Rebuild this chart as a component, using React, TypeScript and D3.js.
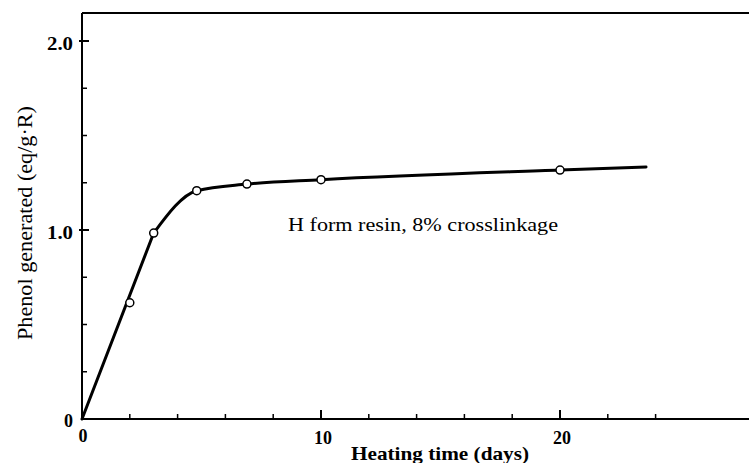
import React from "react";
import * as d3 from "d3";

const days = [2, 3, 4.8, 6.9, 10, 20];
const phenol = [0.615, 0.984, 1.208, 1.243, 1.266, 1.317];
const riseDays = [0, 3];
const risePhenol = [0, 0.984];
const plateauDays = [3, 4.8, 6.9, 10, 20, 23.6];
const plateauPhenol = [0.984, 1.208, 1.243, 1.266, 1.317, 1.333];
const xMajorTicks = [10, 20];
const xMinorTicks = [2, 4, 6, 8, 12, 14, 16, 18, 22, 24];
const yMajorTicks = [1.0, 2.0];
const yMinorTicks = [0.25, 0.5, 0.75, 1.25, 1.5, 1.75];
const yTickLabels = ["1.0", "2.0"];
const xTickLabels = ["10", "20"];
const xTitle = "Heating time (days)";
const yTitle = "Phenol generated (eq/g\u00b7R)";
const annotation = "H form resin, 8% crosslinkage";

const W = 749;
const H = 463;

export default function App() {
  const x = d3.scaleLinear().domain([0, 28]).range([82, 82 + 28 * 23.9]);
  const y = d3.scaleLinear().domain([0, 2]).range([419, 41]);
  const riseLine = d3
    .line<number>()
    .x((_, i) => x(riseDays[i]))
    .y((d) => y(d));
  const plateauLine = d3
    .line<number>()
    .x((_, i) => x(plateauDays[i]))
    .y((d) => y(d))
    .curve(d3.curveMonotoneX);
  const font = "'Liberation Serif', 'Times New Roman', serif";
  const x0 = x(0);
  const yTop = 13;
  return (
    <svg
      width={W}
      height={H}
      style={{ position: "absolute", left: 0, top: 0, background: "#fff" }}
      fontFamily={font}
    >
      <rect x={0} y={0} width={W} height={H} fill="#fff" />
      {/* frame */}
      <line x1={x0} x2={W} y1={yTop} y2={yTop} stroke="#000" strokeWidth={2} />
      <line x1={x0} x2={x0} y1={yTop} y2={y(0)} stroke="#000" strokeWidth={2} />
      <line x1={x0} x2={W} y1={y(0)} y2={y(0)} stroke="#000" strokeWidth={2} />
      {/* y ticks */}
      {yMajorTicks.map((t) => (
        <line key={"ym" + t} x1={x0 - 3} x2={x0 + 7} y1={y(t)} y2={y(t)} stroke="#000" strokeWidth={2} />
      ))}
      {yMinorTicks.map((t) => (
        <line key={"yn" + t} x1={x0} x2={x0 + 5} y1={y(t)} y2={y(t)} stroke="#000" strokeWidth={1.5} />
      ))}
      {/* x ticks */}
      {xMajorTicks.map((t) => (
        <line key={"xm" + t} x1={x(t)} x2={x(t)} y1={y(0)} y2={y(0) - 9} stroke="#000" strokeWidth={2} />
      ))}
      {xMinorTicks.map((t) => (
        <line key={"xn" + t} x1={x(t)} x2={x(t)} y1={y(0)} y2={y(0) - 5} stroke="#000" strokeWidth={1.5} />
      ))}
      {/* y tick labels */}
      {yMajorTicks.map((t, i) => (
        <text key={"yl" + t} x={73} y={y(t) + 9} textAnchor="end" fontSize={19} fontWeight="bold"
          textLength={26} lengthAdjust="spacingAndGlyphs">
          {yTickLabels[i]}
        </text>
      ))}
      <text x={73} y={427} textAnchor="end" fontSize={18} fontWeight="bold">0</text>
      <text x={x0 + 1} y={442} textAnchor="middle" fontSize={18} fontWeight="bold">0</text>
      {/* x tick labels */}
      {xMajorTicks.map((t, i) => (
        <text key={"xl" + t} x={x(t) + 2} y={444} textAnchor="middle" fontSize={18} fontWeight="bold">
          {xTickLabels[i]}
        </text>
      ))}
      {/* axis titles */}
      <text x={440} y={460} textAnchor="middle" fontSize={19} fontWeight="bold"
        textLength={178} lengthAdjust="spacingAndGlyphs">
        {xTitle}
      </text>
      <text transform="translate(32,223) rotate(-90)" textAnchor="middle" fontSize={21}
        textLength={234} lengthAdjust="spacingAndGlyphs">
        {yTitle}
      </text>
      {/* annotation */}
      <text x={288} y={231} fontSize={19} textLength={270} lengthAdjust="spacingAndGlyphs">
        {annotation}
      </text>
      {/* curve */}
      <path d={riseLine(risePhenol) || ""} fill="none" stroke="#000" strokeWidth={3} strokeLinecap="round" />
      <path d={plateauLine(plateauPhenol) || ""} fill="none" stroke="#000" strokeWidth={3} strokeLinejoin="round" strokeLinecap="round" />
      {days.map((d, i) => (
        <circle key={"c" + i} cx={x(d)} cy={y(phenol[i])} r={4} fill="#fff" stroke="#000" strokeWidth={1.5} />
      ))}
    </svg>
  );
}
